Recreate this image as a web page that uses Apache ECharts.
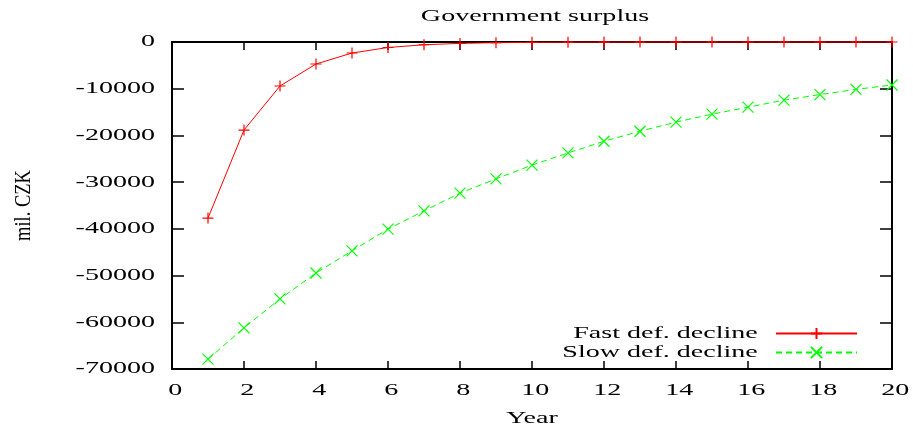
<!DOCTYPE html>
<html><head><meta charset="utf-8">
<script src="https://cdn.jsdelivr.net/npm/echarts@6/dist/echarts.min.js"></script>
<style>html,body{margin:0;padding:0;background:#fff}#c{width:913px;height:428px}</style>
</head><body><div id="c"></div>
<script>
var years = [1,2,3,4,5,6,7,8,9,10,11,12,13,14,15,16,17,18,19,20];
var fastDecline = [-37700,-18850,-9420,-4710,-2360,-1180,-590,-300,-150,-75,-40,-20,-10,-5,-2,-1,0,0,0,0];
var slowDecline = [-67900,-61200,-55000,-49450,-44700,-40050,-36150,-32350,-29300,-26350,-23750,-21250,-19100,-17150,-15450,-13950,-12450,-11250,-10150,-9200];
var xTicks = [0,2,4,6,8,10,12,14,16,18,20];
var yTicks = [0,-10000,-20000,-30000,-40000,-50000,-60000,-70000];

var plusPath = 'path://M0,5L10,5M5,0L5,10';
var crossPath = 'path://M0,0L10,10M10,0L0,10';
var serif = 'Liberation Serif';
var FS = 17;
var txt = {fontFamily: serif, fontSize: FS, color: '#000'};

function pairs(xs, ys){ return xs.map(function(x,i){return [x, ys[i]];}); }

function axisBase(tickLen){
  return {
    axisLine: {show: true, onZero: false, lineStyle: {color: '#000', width: 2}},
    axisTick: {show: true, inside: true, length: tickLen, lineStyle: {color: '#000', width: 1.5}},
    splitLine: {show: false}
  };
}

var chart = echarts.init(document.getElementById('c'), null, {renderer: 'canvas'});
chart.setOption({
  animation: false,
  backgroundColor: '#fff',
  title: {text: 'Government surplus', left: 530, textAlign: 'center', top: 3,
    textStyle: {fontFamily: serif, fontSize: FS, fontWeight: 'normal', color: '#000'}},
  grid: {left: 172, right: 21, top: 42, bottom: 59, containLabel: false, outerBoundsMode: 'none'},
  legend: [
    {data: ['Fast def. decline'], right: 55, top: 325, align: 'right', orient: 'vertical',
     itemWidth: 81, itemHeight: 14, textStyle: Object.assign({padding: [0, 8, 0, 0]}, txt), padding: 0},
    {data: ['Slow def. decline'], right: 55, top: 344, align: 'right', orient: 'vertical',
     itemWidth: 81, itemHeight: 14, textStyle: Object.assign({padding: [0, 8, 0, 0]}, txt), padding: 0}
  ],
  xAxis: [
    Object.assign({type: 'value', min: 0, max: 20, interval: 2, position: 'bottom',
      name: 'Year', nameLocation: 'middle', nameGap: 41, nameTextStyle: txt,
      axisLabel: {fontFamily: serif, fontSize: FS, color: '#000', margin: 13, padding: [0, 0, 0, 4],
        customValues: xTicks}}, axisBase(8)),
    Object.assign({type: 'value', min: 0, max: 20, interval: 2, position: 'top',
      axisLabel: {show: false}}, axisBase(8))
  ],
  yAxis: [
    Object.assign({type: 'value', min: -70000, max: 0, interval: 10000, position: 'left',
      name: 'mil. CZK', nameLocation: 'middle', nameGap: 136, nameRotate: 90,
      nameTextStyle: {fontFamily: serif, fontSize: 18.5, color: '#000'},
      axisLabel: {fontFamily: serif, fontSize: FS, color: '#000', margin: 17,
        customValues: yTicks, formatter: function(v){ return String(v); }}}, axisBase(12)),
    Object.assign({type: 'value', min: -70000, max: 0, interval: 10000, position: 'right',
      axisLabel: {show: false}}, axisBase(12))
  ],
  series: [
    {name: 'Fast def. decline', type: 'line', data: pairs(years, fastDecline), clip: false,
     symbol: plusPath, symbolSize: 11, showAllSymbol: true,
     lineStyle: {color: '#ff0000', width: 1},
     itemStyle: {color: '#ff0000', borderColor: '#ff0000', borderWidth: 1.2}},
    {name: 'Slow def. decline', type: 'line', data: pairs(years, slowDecline), clip: false,
     symbol: crossPath, symbolSize: 11, showAllSymbol: true,
     lineStyle: {color: '#00ff00', width: 1, type: [6, 4]},
     itemStyle: {color: '#00ff00', borderColor: '#00ff00', borderWidth: 1.2}}
  ]
});

// The reference's lettering is horizontally widened; stretch each text about its anchor.
var STRETCH = 1.65, STRETCH_ROT = 1.3;
function stretchText(el){
  if (!el) return;
  if (el.type === 'text' && !el.__stretched) {
    el.__stretched = true;
    el.originX = (el.style && el.style.x) || 0;
    el.originY = (el.style && el.style.y) || 0;
    var r = Math.abs(el.rotation || 0) % Math.PI;
    if (Math.abs(r - Math.PI / 2) < 0.1) { el.scaleY = STRETCH_ROT; }
    else { el.scaleX = STRETCH; }
    el.markRedraw && el.markRedraw();
  }
  if (el.isGroup && el.eachChild) el.eachChild(stretchText);
  if (el.getTextContent) stretchText(el.getTextContent());
}
var zr = chart.getZr();
zr.storage.getRoots().forEach(stretchText);
zr.refreshImmediately();
</script></body></html>
